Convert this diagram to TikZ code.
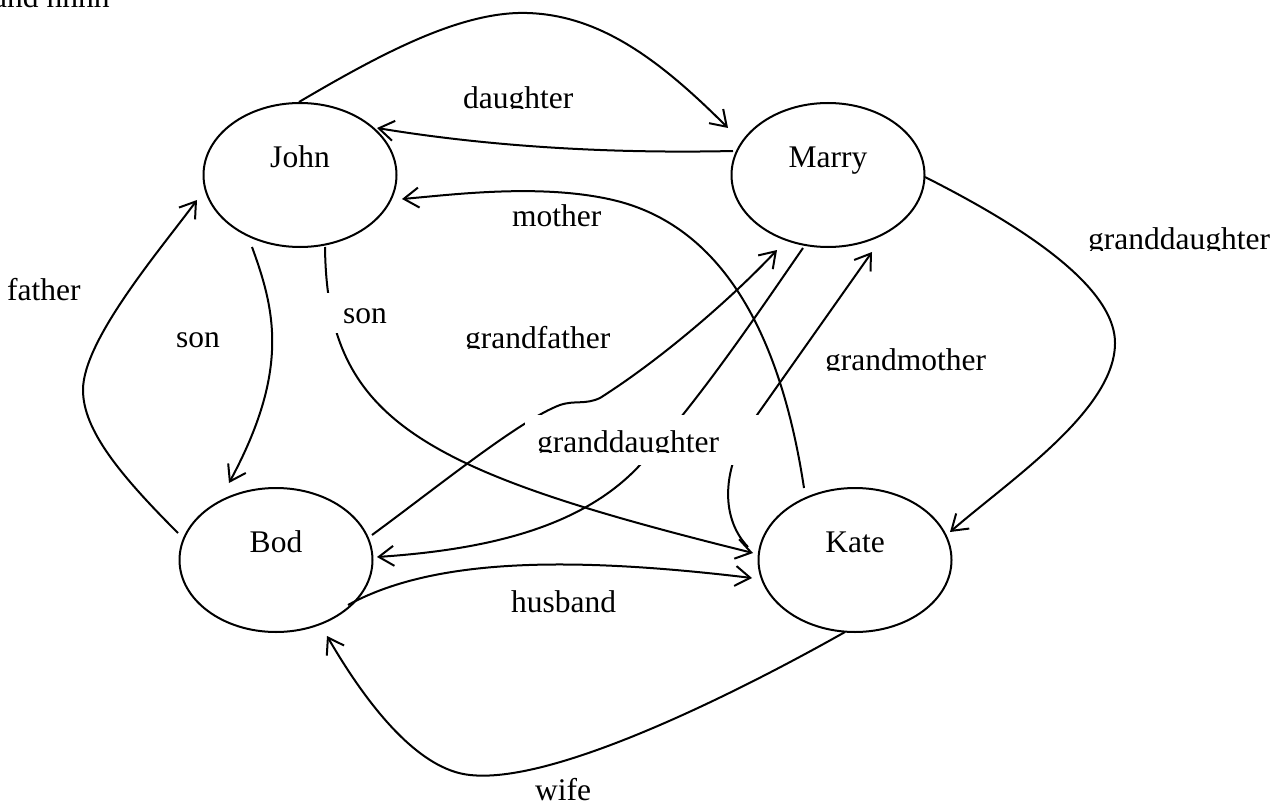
\documentclass[tikz,border=0pt]{standalone}
\usepackage{fontspec}
\setmainfont{Liberation Serif}
\usetikzlibrary{arrows.meta,calc,shapes.geometric}

% hide the descenders of a label: white band just under its baseline
\newcommand\trimdesc[1]{\fill[white] ($(#1.base west)+(0,1)$) rectangle ($(#1.base east)+(0,12)$);}

\begin{document}
\begin{tikzpicture}[x=1pt,y=-1pt,
  every node/.style={font=\fontsize{31.5}{36}\selectfont},
  person/.style={ellipse,draw,line width=2pt,minimum width=193pt,minimum height=144pt,
                 inner sep=0pt,text height=22pt,text depth=37pt},
  rel/.style={line width=2pt,-{Straight Barb[length=15pt,width=20pt]}},
  lbl/.style={inner sep=0pt,anchor=base west},
  mask/.style={lbl,fill=white,align=left}
]
\useasboundingbox (0,0) rectangle (1285,805);
\clip (0,0) rectangle (1285,805);

% family members
\node[person] (john)  at (300,175) {John};
\node[person] (marry) at (828,175) {Marry};
\node[person] (bod)   at (276,560) {Bod};
\node[person] (kate)  at (855,560) {Kate};

% daughter: John -> Marry, over the top
\draw[rel] ($(john)+(-1,-73)$) .. controls +(80,-47) and +(-67,-2) .. (527,13)
           .. controls +(73,2) and +(-68,-68) .. ($(marry)+(-100,-47)$);
% Marry -> John
\draw[rel] ($(marry)+(-95,-24)$) .. controls +(-133,3) and +(103,17) .. ($(john)+(77,-47)$);
% mother: Kate -> John
\draw[rel] ($(kate)+(-51,-72)$) .. controls +(-24,-158) and +(107,25) .. (613,200)
           .. controls +(-73,-17) and +(48,-4) .. ($(john)+(102,24)$);
% son: John -> Bod
\draw[rel] ($(john)+(-48,72)$) .. controls +(23,63) and +(61,-113) .. ($(bod)+(-47,-77)$);
% son: John -> Kate
\draw[rel] ($(john)+(25,72)$) .. controls +(2,173) and +(-335,-83) .. ($(kate)+(-102,-7)$);
% father: Bod -> John
\draw[rel] ($(bod)+(-98,-27)$) .. controls +(-58,-58) and +(0,40) .. (83,390)
           .. controls +(0,-50) and +(-37,50) .. ($(john)+(-103,25)$);
% granddaughter: Marry -> Kate
\draw[rel] ($(marry)+(97,2)$) .. controls +(75,38) and +(0,-63) .. (1115,343)
           .. controls +(0,67) and +(60,-52) .. ($(kate)+(95,-28)$);
% grandfather: Bod -> Marry
\draw[rel] ($(bod)+(96,-25)$) .. controls +(68,-50) and +(-40,15) .. (560,405)
           .. controls +(15,-5) and +(-15,7) .. (600,398)
           .. controls +(60,-38) and +(-47,50) .. ($(marry)+(-51,75)$);
% granddaughter: Marry -> Bod
\draw[rel] ($(marry)+(-25,73)$) .. controls +(-43,62) and +(60,-65) .. (640,465)
           .. controls +(-60,65) and +(103,-7) .. ($(bod)+(101,-3)$);
% grandmother: Kate -> Marry
\draw[rel] ($(kate)+(-107,-13)$) .. controls +(-26,-27) and +(-39,55) .. (757,415)
           -- ($(marry)+(44,77)$);
% husband: Bod -> Kate
\draw[rel] ($(bod)+(72,45)$) .. controls +(82,-45) and +(-192,-23) .. ($(kate)+(-103,18)$);
% wife: Kate -> Bod, under the bottom
\draw[rel] ($(kate)+(-10,72)$) .. controls +(-85,48) and +(90,10) .. (470,775)
           .. controls +(-50,-5) and +(43,74) .. ($(bod)+(51,76)$);

% relation labels
\node[lbl] (ldaughter) at (463,108.5) {daughter};
\node[lbl] (lmother)   at (512,227) {mother};
\node[lbl] (lfather)   at (7,300) {father};
\node[lbl] (lsonA)     at (176,347) {son};
\node[mask,inner xsep=23pt,inner ysep=0pt,text width=40pt,text height=30pt,text depth=10pt]
      (lsonB) at (320,323) {son};
\node[lbl] (lgf)       at (465,348) {grandfather};
\node[lbl] (lgm)       at (825,370) {grandmother};
\node[mask,inner xsep=12pt,inner ysep=0pt,text width=221pt,text height=37pt,text depth=13pt]
      (lgdB) at (525,452) {granddaughter};
\node[lbl] (lgdA)      at (1088,250) {granddaughter};
\node[lbl] (lhusband)  at (511,612) {husband};
\node[lbl] (lwife)     at (535,800) {wife};
\node[lbl] (lnote)     at (-7,8) {and hhhh};

\trimdesc{ldaughter}
\trimdesc{lgf}
\trimdesc{lgm}
\trimdesc{lgdA}
\trimdesc{lgdB}
\end{tikzpicture}
\end{document}
